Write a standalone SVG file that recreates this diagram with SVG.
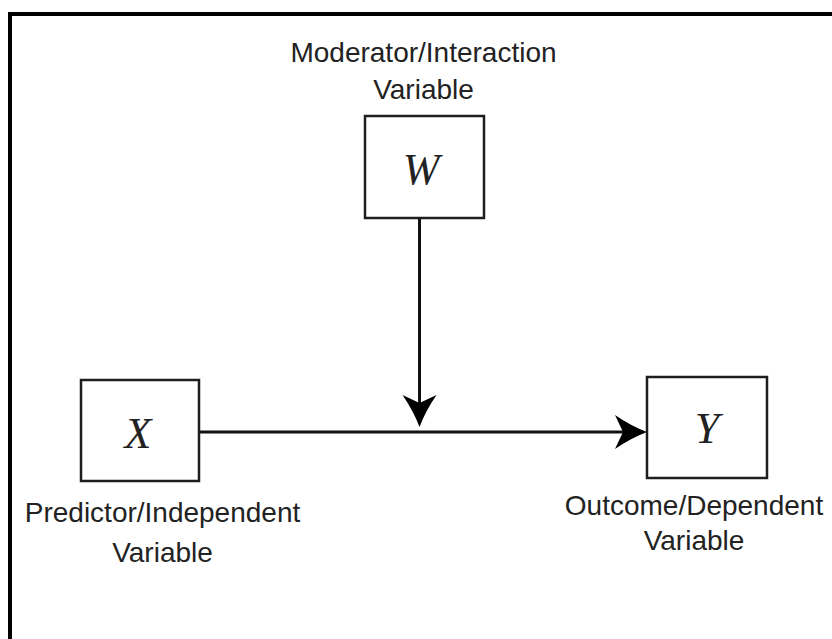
<svg xmlns="http://www.w3.org/2000/svg" width="832" height="639" viewBox="0 0 832 639">
  <style>
    .box { fill: #ffffff; stroke: #1e1e1e; stroke-width: 2.5; }
    .lbl { font-family: "Liberation Sans", Arial, sans-serif; font-size: 28px; fill: #222222; text-anchor: middle; }
    .var { font-family: "Liberation Serif", "Times New Roman", serif; font-style: italic; font-size: 44px; fill: #222222; text-anchor: middle; }
    .conn { stroke: #111111; stroke-width: 3; fill: none; }
  </style>
  <defs>
    <marker id="arrow" markerUnits="userSpaceOnUse" markerWidth="34" markerHeight="36" viewBox="0 -18 34 36" refX="8" refY="0" orient="auto">
      <path d="M32,0 Q16,-6 0,-17 L8,0 L0,17 Q16,6 32,0 Z" fill="#000000"/>
    </marker>
  </defs>
  <rect x="0" y="0" width="832" height="639" fill="#ffffff"/>
  <path d="M10,645 L10,14 L840,14" fill="none" stroke="#000000" stroke-width="4"/>

  <g id="connectors">
    <line class="conn" x1="199" y1="432" x2="623" y2="432" marker-end="url(#arrow)"/>
    <line class="conn" x1="419.5" y1="218" x2="419.5" y2="403" marker-end="url(#arrow)"/>
  </g>

  <g id="node-W">
    <rect class="box" x="365" y="116" width="119" height="102"/>
    <text class="var" x="421" y="184">W</text>
    <text class="lbl" x="423.5" y="62">Moderator/Interaction</text>
    <text class="lbl" x="423.5" y="99">Variable</text>
  </g>

  <g id="node-X">
    <rect class="box" x="81" y="380" width="118" height="101"/>
    <text class="var" x="138" y="448">X</text>
    <text class="lbl" x="162.5" y="522">Predictor/Independent</text>
    <text class="lbl" x="162.5" y="562">Variable</text>
  </g>

  <g id="node-Y">
    <rect class="box" x="647" y="377" width="120" height="101"/>
    <text class="var" x="707" y="443">Y</text>
    <text class="lbl" x="694" y="515">Outcome/Dependent</text>
    <text class="lbl" x="694" y="550">Variable</text>
  </g>
</svg>
